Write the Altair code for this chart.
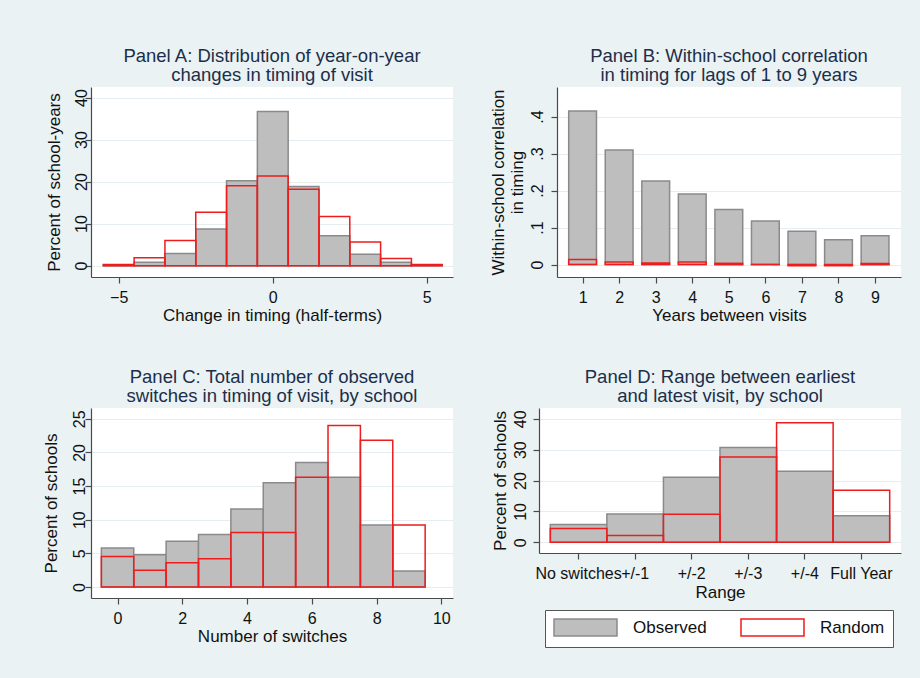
import altair as alt
import pandas as pd

FONT = "Liberation Sans"
OBS_FILL = "#bebebe"
OBS_STROKE = "#8a8a8a"
RAND_STROKE = "#ee1c1c"
GRID = "#e4eef0"
AXIS = "#4a4a4a"
TITLE_COLOR = "#1c2e4a"
BG = "#EAF2F3"

# ---------------- data ----------------
a_change = [-5, -4, -3, -2, -1, 0, 1, 2, 3, 4, 5]
a_observed = [0.15, 0.8, 2.9, 8.7, 20.2, 36.7, 18.8, 7.1, 2.7, 0.8, 0.15]
a_random = [0.3, 1.9, 6.0, 12.7, 19.0, 21.3, 18.2, 11.7, 5.6, 1.7, 0.3]

b_lag = [1, 2, 3, 4, 5, 6, 7, 8, 9]
b_observed = [0.415, 0.310, 0.226, 0.191, 0.149, 0.118, 0.090, 0.067, 0.078]
b_random = [0.0135, 0.007, 0.0045, 0.007, 0.0035, 0.0005, -0.003, -0.003, 0.003]

c_switches = [0, 1, 2, 3, 4, 5, 6, 7, 8, 9]
c_observed = [5.8, 4.8, 6.8, 7.8, 11.6, 15.5, 18.5, 16.3, 9.2, 2.4]
c_random = [4.55, 2.5, 3.6, 4.2, 8.1, 8.1, 16.3, 24.0, 21.8, 9.2]

d_range = ["No switches", "+/-1", "+/-2", "+/-3", "+/-4", "Full Year"]
d_observed = [5.8, 9.2, 21.1, 30.7, 23.0, 8.6]
d_random = [4.5, 2.2, 9.1, 27.6, 38.7, 16.9]

series_names = ["Observed", "Random"]


def long_df(keys, obs, rnd):
    rows = [{"k": k, "series": series_names[0], "value": v} for k, v in zip(keys, obs)]
    rows += [{"k": k, "series": series_names[1], "value": v} for k, v in zip(keys, rnd)]
    return pd.DataFrame(rows)


def y_axis(values, title, label_pad, title_x, label_expr=None):
    kw = dict(
        values=values, title=title, labelAngle=270, labelAlign="center",
        labelBaseline="middle", labelPadding=label_pad, titleX=title_x,
        titleBaseline="middle", titleAngle=270, titleAlign="center",
        grid=True, labelOverlap=False,
    )
    if label_expr:
        kw["labelExpr"] = label_expr
    return alt.Axis(**kw)


def x_axis(values, title):
    return alt.Axis(values=values, title=title, grid=False, labelPadding=14,
                    labelBaseline="middle", titleY=38, titleBaseline="middle",
                    labelFlush=False, labelOverlap=False)


def num_panel(df, half, xdom, ydom, xticks, yticks, xtitle, ytitle, title,
              w, h, label_pad, title_x, label_expr=None):
    base = alt.Chart(df).transform_calculate(
        x0=f"datum.k - {half}", x1=f"datum.k + {half}")
    enc = dict(
        x=alt.X("x0:Q", scale=alt.Scale(domain=xdom, nice=False, zero=False),
                axis=x_axis(xticks, xtitle)),
        x2="x1:Q",
        y=alt.Y("value:Q", scale=alt.Scale(domain=ydom, nice=False, zero=False),
                axis=y_axis(yticks, ytitle, label_pad, title_x, label_expr)),
        y2=alt.datum(0),
    )
    obs = base.transform_filter("datum.series == 'Observed'").mark_bar(
        fill=OBS_FILL, stroke=OBS_STROKE, strokeWidth=1.5).encode(**enc)
    rnd = base.transform_filter("datum.series == 'Random'").mark_bar(
        fill="transparent", stroke=RAND_STROKE, strokeWidth=1.5).encode(**enc)
    return alt.layer(obs, rnd).properties(width=w, height=h, title=title)


panel_a = num_panel(
    long_df(a_change, a_observed, a_random), 0.5, [-5.9, 5.85], [-2.7, 42.5],
    [-5, 0, 5], [0, 10, 20, 30, 40], "Change in timing (half-terms)",
    "Percent of school-years",
    ["Panel A: Distribution of year-on-year", "changes in timing of visit"],
    362, 190, 4, -37)

panel_b = num_panel(
    long_df(b_lag, b_observed, b_random), 0.38, [0.3, 9.71], [-0.0335, 0.48],
    b_lag, [0, 0.1, 0.2, 0.3, 0.4], "Years between visits",
    ["Within-school correlation", "in timing"],
    ["Panel B: Within-school correlation", "in timing for lags of 1 to 9 years"],
    344, 190, 14, -59,
    label_expr="datum.value == 0 ? '0' : replace(format(datum.value, '.1f'), '0.', '.')")

panel_c = num_panel(
    long_df(c_switches, c_observed, c_random), 0.5, [-0.82, 10.36], [-1.63, 26.6],
    [0, 2, 4, 6, 8, 10], [0, 5, 10, 15, 20, 25], "Number of switches",
    "Percent of schools",
    ["Panel C: Total number of observed", "switches in timing of visit, by school"],
    362, 190, 6, -40)

legend_kw = dict(
    title=None, orient="none", legendX=454, legendY=523, direction="horizontal",
    symbolType="M-1,-1L6.41,-1L6.41,1L-1,1Z", symbolSize=289,
    symbolStrokeWidth=1.5, labelFontSize=17, labelFont=FONT, labelColor="#111",
    labelOffset=61, columnPadding=31, padding=8, strokeColor="#555",
    fillColor="white",
)

df_d = long_df(d_range, d_observed, d_random)
panel_d = alt.Chart(df_d).mark_bar(strokeWidth=1.5).encode(
    x=alt.X("k:N", sort=d_range,
            scale=alt.Scale(paddingInner=0, paddingOuter=0.2),
            axis=alt.Axis(title="Range", labelAngle=0, labelPadding=14,
                          labelBaseline="middle", titleY=39,
                          titleBaseline="middle", labelOverlap=False,
                          labelLimit=300)),
    y=alt.Y("value:Q", scale=alt.Scale(domain=[-3.46, 43.5], nice=False, zero=False),
            axis=y_axis([0, 10, 20, 30, 40], "Percent of schools", 13, -39)),
    y2=alt.datum(0),
    fill=alt.Fill("series:N", scale=alt.Scale(domain=series_names,
                                              range=[OBS_FILL, "transparent"]),
                  legend=alt.Legend(**legend_kw)),
    stroke=alt.Stroke("series:N", scale=alt.Scale(domain=series_names,
                                                  range=[OBS_STROKE, RAND_STROKE]),
                      legend=alt.Legend(**legend_kw)),
    order=alt.Order("series:N"),
).properties(width=362, height=145,
             title=["Panel D: Range between earliest", "and latest visit, by school"])

row1 = alt.hconcat(panel_a, panel_b, spacing=104, bounds="flush")
row2 = alt.hconcat(panel_c, panel_d, spacing=86, bounds="flush")

# nested rows report no height in flush mode, so spacing includes row 1's height (190)
chart = alt.vconcat(row1, row2, spacing=321, bounds="flush").properties(
    autosize=alt.AutoSizeParams(type="none"),
    padding={"left": 91, "top": 87, "right": 829, "bottom": 591},
    background=BG,
).configure(font=FONT).configure_view(
    stroke=None, fill="white"
).configure_axis(
    domainColor=AXIS, tickColor=AXIS, tickSize=6, domainWidth=1.2, tickWidth=1.2,
    gridColor=GRID, labelFont=FONT, labelFontSize=16, labelColor="#111",
    titleFont=FONT, titleFontSize=17, titleFontWeight="normal", titleColor="#111",
).configure_title(
    font=FONT, fontSize=18.5, fontWeight="normal", color=TITLE_COLOR,
    anchor="middle", baseline="bottom", offset=3, lineHeight=19,
)

chart.save("out.html", embed_options={"renderer": "svg", "actions": False})
